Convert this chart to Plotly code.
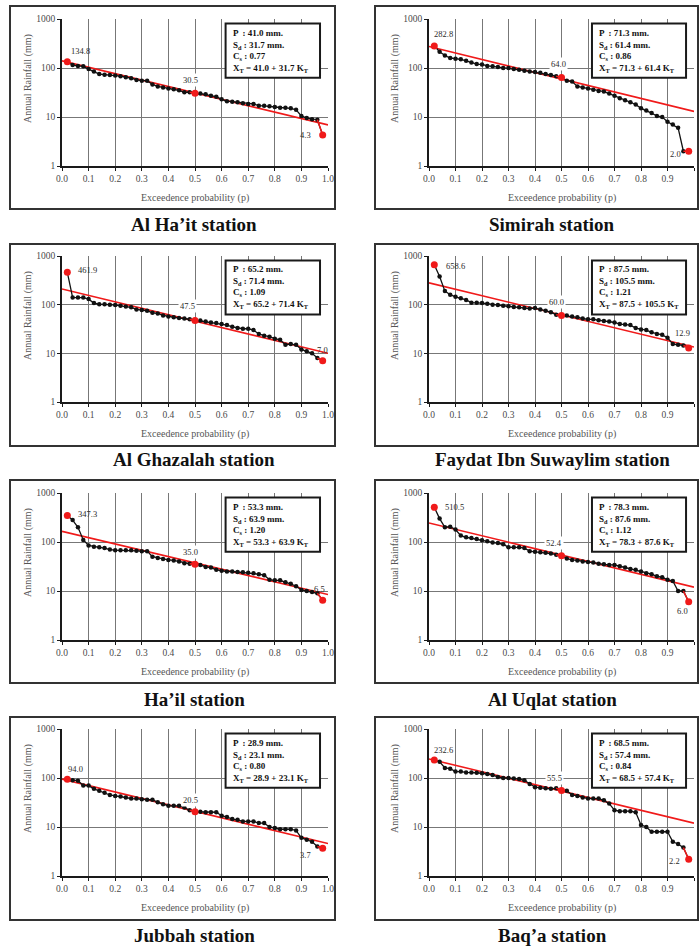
import math
import plotly.graph_objects as go

# ---------------- data ----------------
station_names = ["Al Ha’it station", "Simirah station", "Al Ghazalah station",
                 "Faydat Ibn Suwaylim station", "Ha’il station", "Al Uqlat station",
                 "Jubbah station", "Baq’a station"]

prob = [0.02, 0.04, 0.06, 0.08, 0.10, 0.12, 0.14, 0.16, 0.18, 0.20,
        0.22, 0.24, 0.26, 0.28, 0.30, 0.32, 0.34, 0.36, 0.38, 0.40,
        0.42, 0.44, 0.46, 0.48, 0.50, 0.52, 0.54, 0.56, 0.58, 0.60,
        0.62, 0.64, 0.66, 0.68, 0.70, 0.72, 0.74, 0.76, 0.78, 0.80,
        0.82, 0.84, 0.86, 0.88, 0.90, 0.92, 0.94, 0.96, 0.98]

rain_al_hait = [134.8, 115, 110, 108, 95, 85, 75, 73, 72, 70, 68, 65, 62, 57, 55, 55, 46, 42, 40, 38,
                37, 35, 32, 32, 30.5, 30, 29, 27, 26, 23, 21, 20.5, 20, 19, 18.5, 18.5, 17, 17, 16.5, 16,
                15.5, 15.5, 15, 14, 10.5, 9.5, 9, 8.8, 4.3]
rain_simirah = [282.8, 215, 180, 160, 155, 150, 140, 130, 120, 118, 110, 108, 105, 100, 100, 95, 92, 88, 85, 83,
                80, 75, 72, 68, 64.0, 55, 53, 42, 40, 38, 36, 34, 33, 30, 27, 24, 22, 20, 18, 15,
                13.5, 12, 10.5, 10, 8, 7, 6, 2, 2.0]
rain_al_ghazalah = [461.9, 140, 140, 140, 130, 108, 102, 102, 100, 98, 95, 92, 88, 80, 78, 75, 68, 66, 60, 57,
                    55, 53, 52, 50, 47.5, 47, 45, 43, 42, 40, 38, 35, 33, 32, 32, 30, 25, 23, 22, 20,
                    19, 15, 15.5, 15, 12, 11, 10, 8, 7.0]
rain_faydat = [658.6, 380, 190, 160, 145, 135, 125, 110, 110, 108, 105, 100, 98, 95, 93, 90, 88, 85, 83, 85,
               80, 75, 70, 62, 60.0, 60, 57, 55, 52, 50, 50, 48, 46, 45, 43, 40, 39, 38, 33, 31,
               30, 27, 25, 24, 21, 15.5, 15, 14.5, 12.9]
rain_hail = [347.3, 280, 200, 110, 85, 80, 78, 75, 70, 68, 68, 68, 68, 66, 65, 65, 50, 47, 45, 43,
             42, 40, 37, 36, 35.0, 34, 31, 30, 27, 26, 25, 25, 24.5, 24, 23.5, 23, 22, 21, 17, 16.5,
             16.5, 15, 14, 12.5, 10.5, 10, 9.5, 9, 6.5]
rain_al_uqlat = [510.5, 300, 200, 205, 180, 135, 125, 120, 115, 108, 103, 98, 95, 90, 78, 78, 78, 75, 65, 63,
                 62, 60, 58, 55, 52.4, 46, 43, 42, 40, 39, 38, 36, 35, 34, 34, 32, 30, 28, 27, 25,
                 23, 22, 20, 19, 17, 16, 10, 10, 6.0]
rain_jubbah = [94.0, 90, 88, 70, 70, 60, 55, 50, 45, 43, 42, 40, 38, 38, 37, 36, 36, 32, 29, 27,
               27, 27, 25, 22, 20.5, 20.5, 20, 20, 20, 17, 16, 14.5, 14, 13, 13, 13, 12, 12, 10, 9.5,
               9, 9, 9, 8.5, 6, 5.5, 5, 4, 3.7]
rain_baqa = [232.6, 215, 160, 155, 135, 135, 130, 130, 128, 125, 120, 115, 105, 100, 100, 98, 95, 90, 75, 65,
             63, 62, 60, 62, 55.5, 55, 45, 43, 40, 38, 38, 38, 35, 30, 22, 21, 21, 21, 20, 11,
             10, 8, 8, 8, 8, 5, 4.5, 3.8, 2.2]

fit_prob = [0.0, 1.0]
fit_al_hait = [140, 6.9]
fit_simirah = [275, 13]
fit_al_ghazalah = [210, 10]
fit_faydat = [280, 13.5]
fit_hail = [165, 8.5]
fit_al_uqlat = [245, 12]
fit_jubbah = [95, 4.6]
fit_baqa = [245, 12]

mean_mm = [41.0, 71.3, 65.2, 87.5, 53.3, 78.3, 28.9, 68.5]
sd_mm = [31.7, 61.4, 71.4, 105.5, 63.9, 87.6, 23.1, 57.4]
skew_cs = [0.77, 0.86, 1.09, 1.21, 1.20, 1.12, 0.80, 0.84]

x_tick_vals = [0.0, 0.1, 0.2, 0.3, 0.4, 0.5, 0.6, 0.7, 0.8, 0.9, 1.0]
x_tick_text = ["0.0", "0.1", "0.2", "0.3", "0.4", "0.5", "0.6", "0.7", "0.8", "0.9", "1.0"]
y_tick_vals = [1, 10, 100, 1000]
y_tick_text = ["1", "10", "100", "1000"]

rain_series = [rain_al_hait, rain_simirah, rain_al_ghazalah, rain_faydat,
               rain_hail, rain_al_uqlat, rain_jubbah, rain_baqa]
fit_series = [fit_al_hait, fit_simirah, fit_al_ghazalah, fit_faydat,
              fit_hail, fit_al_uqlat, fit_jubbah, fit_baqa]

# ---------------- style / layout ----------------
W, H = 700, 948
SERIF = "Liberation Serif, Times New Roman, serif"
RED = "#f01a1a"
BLACK = "#111111"
GRID = "#777777"

col_x = [(62, 328), (429, 694)]            # plot area px
row_y = [(19, 166), (256, 402), (493, 640), (729, 876)]
frame_x = [(10, 335), (375, 698)]
frame_y = [(6, 209), (244, 446), (480, 683), (717, 920)]
title_y = [225, 459, 699, 935]
title_x = [194, 552]

# label offsets (px) : max, median, min
max_off = [(13, 11), (9, 12), (20, 2), (21, -1), (20, 2), (20, 0), (8, 10), (9, 10)]
med_off = [(-5, 13), (-3, 14), (-8, 14), (-5, 13), (-5, 12), (-8, 13), (-5, 12), (-7, 13)]
min_off = [(-17, 0), (-13, -3), (0, 11), (-6, 15), (-3, 11), (-6, -9), (-17, -7), (-14, -2)]


def px(x):
    return x / W


def py(y):
    return 1 - y / H


fig = go.Figure()
layout = dict(width=W, height=H, autosize=False, margin=dict(l=0, r=0, t=0, b=0, pad=0),
              paper_bgcolor="white", plot_bgcolor="white", showlegend=False)
annotations = []
shapes = []

for i in range(8):
    r, c = divmod(i, 2)
    k = i + 1
    xn = "x" if k == 1 else f"x{k}"
    yn = "y" if k == 1 else f"y{k}"
    xa_key = "xaxis" if k == 1 else f"xaxis{k}"
    ya_key = "yaxis" if k == 1 else f"yaxis{k}"
    rain = rain_series[i]
    fit = fit_series[i]
    n = len(rain)
    imed = n // 2
    ilast = n - 1

    layout[xa_key] = dict(domain=[px(col_x[c][0]), px(col_x[c][1])], anchor=yn, range=[0, 1],
                          automargin=False,
                          tickvals=x_tick_vals, ticktext=x_tick_text,
                          showgrid=True, gridcolor=GRID, gridwidth=1,
                          showline=True, linecolor="#1a1a1a", linewidth=1.5, mirror=False,
                          ticks="outside", ticklen=3, tickcolor="#1a1a1a",
                          tickfont=dict(family=SERIF, size=9.5, color="#4a4a4a"),
                          zeroline=False, fixedrange=True)
    layout[ya_key] = dict(domain=[py(row_y[r][1]), py(row_y[r][0])], anchor=xn, type="log",
                          automargin=False,
                          range=[0, 3], tickvals=y_tick_vals, ticktext=y_tick_text,
                          showgrid=True, gridcolor=GRID, gridwidth=1,
                          showline=True, linecolor="#1a1a1a", linewidth=1.5,
                          ticks="outside", ticklen=3, tickcolor="#1a1a1a",
                          tickfont=dict(family=SERIF, size=9.5, color="#4a4a4a"),
                          zeroline=False, fixedrange=True)

    # fitted line
    fig.add_trace(go.Scatter(x=fit_prob, y=fit, mode="lines", xaxis=xn, yaxis=yn,
                             line=dict(color=RED, width=1.6), hoverinfo="skip"))
    # observed
    fig.add_trace(go.Scatter(x=prob, y=rain, mode="lines+markers", xaxis=xn, yaxis=yn,
                             line=dict(color=BLACK, width=1.3),
                             marker=dict(color=BLACK, size=4.5)))
    # red segments into highlighted points
    for a, b in [(imed - 1, imed), (ilast - 1, ilast)]:
        fig.add_trace(go.Scatter(x=[prob[a], prob[b]], y=[rain[a], rain[b]], mode="lines",
                                 xaxis=xn, yaxis=yn, line=dict(color=RED, width=1.5),
                                 hoverinfo="skip"))
    hi = [0, imed, ilast]
    fig.add_trace(go.Scatter(x=[prob[j] for j in hi], y=[rain[j] for j in hi], mode="markers",
                             xaxis=xn, yaxis=yn, marker=dict(color=RED, size=7)))

    # value labels
    for j, off, bg in [(0, max_off[i], "rgba(0,0,0,0)"), (imed, med_off[i], "white"),
                       (ilast, min_off[i], "rgba(0,0,0,0)")]:
        annotations.append(dict(x=prob[j], y=math.log10(rain[j]), xref=xn, yref=yn,
                                xanchor="center", yanchor="middle",
                                text=f"{rain[j]:.1f}", showarrow=False,
                                xshift=off[0], yshift=off[1], bgcolor=bg, borderpad=1,
                                font=dict(family=SERIF, size=8.5, color="#2a2a2a")))

    # stats box
    shapes.append(dict(type="rect", xref=f"{xn} domain", yref=f"{yn} domain",
                       x0=0.615, x1=0.97, y0=0.60, y1=0.97,
                       line=dict(color="#1a1a1a", width=2), fillcolor="white", layer="above"))
    stats_txt = (f"<b>P̄  : {mean_mm[i]:.1f} mm.</b><br>"
                 f"<b>S<sub>d</sub> : {sd_mm[i]:.1f} mm.</b><br>"
                 f"<b>C<sub>s</sub> : {skew_cs[i]:.2f}</b><br>"
                 f"<b>X<sub>T</sub> = {mean_mm[i]:.1f} + {sd_mm[i]:.1f} K<sub>T</sub></b>")
    annotations.append(dict(x=0.635, y=0.785, xref=f"{xn} domain", yref=f"{yn} domain",
                            xanchor="left", yanchor="middle", align="left", showarrow=False,
                            text=stats_txt, font=dict(family=SERIF, size=9, color="#111")))

    # axis titles
    annotations.append(dict(x=px((col_x[c][0] + col_x[c][1]) / 2), y=py(row_y[r][1] + 31.5),
                            xref="paper", yref="paper", xanchor="center", yanchor="middle",
                            showarrow=False, text="Exceedence probability (p)",
                            font=dict(family=SERIF, size=10, color="#555")))
    annotations.append(dict(x=px(col_x[c][0] - 34), y=py(row_y[r][0] + 60),
                            xref="paper", yref="paper", xanchor="center", yanchor="middle",
                            showarrow=False, textangle=-90, text="Annual Rainfall (mm)",
                            font=dict(family=SERIF, size=10, color="#555")))

    # outer frame
    shapes.append(dict(type="rect", xref="paper", yref="paper",
                       x0=px(frame_x[c][0]), x1=px(frame_x[c][1]),
                       y0=py(frame_y[r][1]), y1=py(frame_y[r][0]),
                       line=dict(color="#333", width=2), fillcolor="rgba(0,0,0,0)"))

    # station title
    annotations.append(dict(x=px(title_x[c]), y=py(title_y[r]), xref="paper", yref="paper",
                            xanchor="center", yanchor="middle",
                            showarrow=False, text=f"<b>{station_names[i]}</b>",
                            font=dict(family=SERIF, size=19, color="#111")))

layout["annotations"] = annotations
layout["shapes"] = shapes
fig.update_layout(**layout)
fig.write_html("out.html", config={"displayModeBar": False},
               post_script="document.body.style.margin='0px';document.body.style.overflow='hidden';")
